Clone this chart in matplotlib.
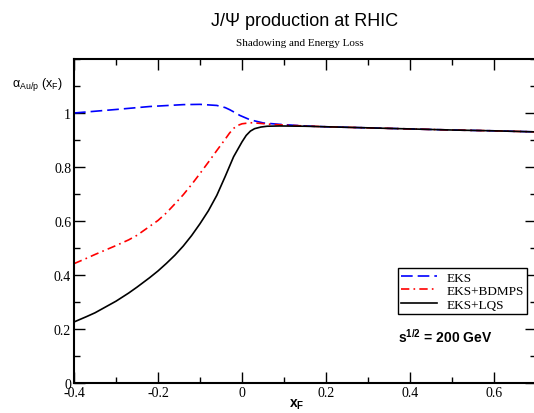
import matplotlib
matplotlib.use("Agg")
import matplotlib.pyplot as plt
from matplotlib.ticker import MultipleLocator, FixedLocator

x_eks = [-0.4, -0.3, -0.22, -0.14, -0.1, -0.06, -0.04, -0.029, -0.015, -0.005, 0.019, 0.051, 0.09, 0.15, 0.2, 0.3, 0.4, 0.5, 0.6, 0.7]
y_eks = [1.0, 1.013, 1.024, 1.031, 1.032, 1.028, 1.02, 1.012, 1.0, 0.991, 0.975, 0.963, 0.958, 0.952, 0.949, 0.945, 0.941, 0.937, 0.934, 0.930]

x_bdmps = [-0.4, -0.37, -0.35, -0.3, -0.27, -0.25, -0.22, -0.2, -0.18, -0.16, -0.14, -0.12, -0.1, -0.08, -0.06, -0.04, -0.03, -0.02, -0.01, 0.0, 0.02, 0.04, 0.07, 0.1, 0.15, 0.2, 0.3, 0.4, 0.5, 0.6, 0.7]
y_bdmps = [0.442, 0.462, 0.476, 0.509, 0.530, 0.547, 0.580, 0.602, 0.630, 0.663, 0.697, 0.735, 0.776, 0.818, 0.861, 0.903, 0.925, 0.943, 0.954, 0.960, 0.964, 0.962, 0.958, 0.955, 0.952, 0.949, 0.945, 0.941, 0.937, 0.934, 0.930]

x_lqs = [-0.4, -0.37, -0.35, -0.3, -0.27, -0.25, -0.22, -0.2, -0.18, -0.16, -0.14, -0.12, -0.1, -0.08, -0.06, -0.04, -0.02, 0.0, 0.01, 0.02, 0.03, 0.045, 0.06, 0.09, 0.15, 0.2, 0.3, 0.4, 0.5, 0.6, 0.7]
y_lqs = [0.226, 0.246, 0.260, 0.303, 0.333, 0.355, 0.390, 0.415, 0.443, 0.473, 0.507, 0.546, 0.590, 0.638, 0.695, 0.765, 0.838, 0.893, 0.917, 0.933, 0.942, 0.948, 0.951, 0.952, 0.951, 0.949, 0.945, 0.941, 0.937, 0.934, 0.930]

labels = ["EKS", "EKS+BDMPS", "EKS+LQS"]
x_ticks = [-0.4, -0.2, 0, 0.2, 0.4, 0.6]
x_ticklabels = ["-0.4", "-0.2", "0", "0.2", "0.4", "0.6"]
y_ticks = [0, 0.2, 0.4, 0.6, 0.8, 1.0]
y_ticklabels = ["0", "0.2", "0.4", "0.6", "0.8", "1"]

plt.rcParams["mathtext.fontset"] = "custom"
plt.rcParams["mathtext.rm"] = "Liberation Sans"
plt.rcParams["mathtext.it"] = "Liberation Sans"
plt.rcParams["mathtext.bf"] = "Liberation Sans:bold"

W, H = 534, 414
fig = plt.figure(figsize=(W / 100, H / 100), dpi=100)
ax = fig.add_axes([74 / W, (H - 384) / H, (536 - 74) / W, 324 / H])

ax.plot(x_eks, y_eks, color="#0000ff", lw=1.2, dashes=(7, 3), label=labels[0])
ax.plot(x_bdmps, y_bdmps, color="#ff0000", lw=1.2, dashes=(5, 2.5, 1, 2.5), label=labels[1])
ax.plot(x_lqs, y_lqs, color="black", lw=1.2, label=labels[2])

ax.set_xlim(-0.4, 0.7)
ax.set_ylim(0, 1.2)
ax.xaxis.set_major_locator(FixedLocator(x_ticks))
ax.set_xticklabels(x_ticklabels)
ax.xaxis.set_minor_locator(MultipleLocator(0.1))
ax.yaxis.set_major_locator(FixedLocator(y_ticks))
ax.set_yticklabels(y_ticklabels)
ax.yaxis.set_minor_locator(MultipleLocator(0.1))
ax.tick_params(which="both", direction="in", top=True, right=True, width=1)
ax.tick_params(which="major", length=8, labelsize=10, pad=2)
ax.tick_params(which="minor", length=4)
for lab in ax.get_xticklabels() + ax.get_yticklabels():
    lab.set_family("Liberation Serif")
for s in ax.spines.values():
    s.set_linewidth(1.5)

fig.text(305 / W, 1 - 22 / H, "J/\u03a8 production at RHIC", ha="center", va="center",
         fontsize=13, family="Liberation Sans")
fig.text(300 / W, 1 - 44 / H, "Shadowing and Energy Loss", ha="center", va="center",
         fontsize=8, family="Liberation Serif")
fig.text(12 / W, 1 - 85 / H, r"$\mathregular{\alpha_{Au/p}\ (x_F)}$", ha="left", va="center",
         fontsize=9, family="Liberation Sans")
fig.text(297 / W, 1 - 405 / H, r"$\mathbf{x_F}$", ha="center", va="center",
         fontsize=10, family="Liberation Sans")
fig.text(398 / W, 1 - 337 / H, r"$\mathbf{s^{1/2}}$ = 200 GeV", ha="left", va="center",
         fontsize=10, fontweight="bold", family="Liberation Sans")

leg = ax.legend(loc="upper left", bbox_to_anchor=((398 - 74) / 462, (384 - 269) / 324),
                frameon=True, fancybox=False, edgecolor="black", framealpha=1,
                prop={"family": "Liberation Serif", "size": 9.5},
                handlelength=2.7, labelspacing=0.1, borderpad=0.25, borderaxespad=0,
                handletextpad=0.7)
leg.get_frame().set_linewidth(1.0)

fig.savefig("out.png", dpi=100)
